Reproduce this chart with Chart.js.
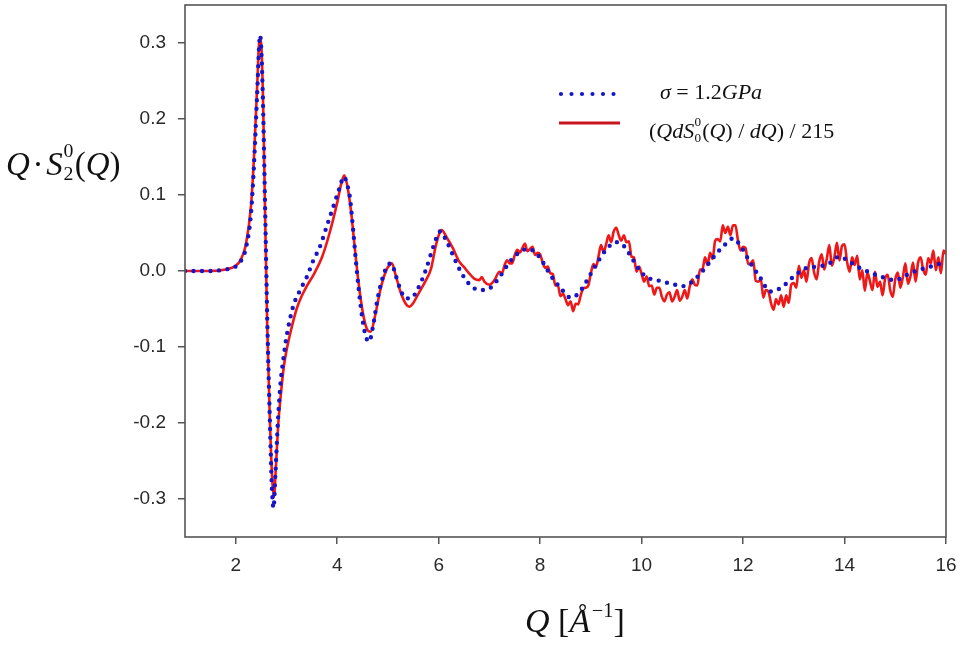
<!DOCTYPE html>
<html>
<head>
<meta charset="utf-8">
<script src="https://cdn.jsdelivr.net/npm/chart.js@4"></script>
<style>
  html, body { margin:0; padding:0; background:#fff; }
  #wrap { position:relative; width:966px; height:650px; overflow:hidden; }
  canvas { position:absolute; left:0; top:0; }
  .t { position:absolute; font-family:"Liberation Serif","Times New Roman",serif; color:#111; white-space:nowrap; line-height:1; }
  .i { font-style:italic; }
  .ss { display:inline-block; position:relative; width:0.36em; height:1em; vertical-align:baseline; }
  .ss span { position:absolute; left:0.03em; font-size:0.6em; font-style:normal; line-height:1; }
  .ss .u { top:-0.05em; }
  .ss .d { top:1.1em; }
  .sup { font-size:0.6em; position:relative; top:-0.75em; font-style:normal; margin-left:0.08em; }
</style>
</head>
<body>
<div id="wrap">
  <canvas id="c" width="966" height="650"></canvas>
  <div class="t" id="ylab" style="left:6px; top:142px; font-size:33px;"><span class="i">Q</span>&#8202;·&#8202;<span class="i">S</span><span class="ss"><span class="u">0</span><span class="d">2</span></span>(<span class="i">Q</span>)</div>
  <div class="t" id="xlab" style="left:525px; top:604px; font-size:34px;"><span class="i">Q</span> [<span class="i">Å</span><span class="sup">−1</span>]</div>
  <div class="t" id="leg1" style="left:660px; top:81px; font-size:22px;"><span class="i">σ</span> = 1.2<span class="i">GPa</span></div>
  <div class="t" id="leg2" style="left:649px; top:116px; font-size:22px;">(<span class="i">QdS</span><span class="ss"><span class="u">0</span><span class="d">0</span></span>(<span class="i">Q</span>) / <span class="i">dQ</span>) / 215</div>
</div>
<script>
// ---------- data ----------
const xTickValues = [2, 4, 6, 8, 10, 12, 14, 16];
const yTickValues = [-0.3, -0.2, -0.1, 0.0, 0.1, 0.2, 0.3];

const seriesNames = ["σ = 1.2GPa", "(QdS0(Q)/dQ)/215"];

// sigma = 1.2 GPa (blue dotted)
const blueQ = [1.0, 1.4, 1.8, 2.0, 2.1, 2.2, 2.3, 2.36, 2.42, 2.48, 2.53, 2.58, 2.62, 2.67, 2.71, 2.745, 2.78, 2.83, 2.88, 2.95,
  3.0, 3.13, 3.27, 3.4, 3.53, 3.66, 3.79, 3.92, 4.05, 4.13, 4.2, 4.25, 4.32, 4.38, 4.48, 4.56, 4.63, 4.7, 4.8, 4.9,
  5.0, 5.07, 5.15, 5.25, 5.35, 5.45, 5.6, 5.75, 5.9, 6.03, 6.15, 6.3, 6.42, 6.55, 6.68, 6.85, 7.0, 7.2, 7.4, 7.6,
  7.75, 7.9, 8.05, 8.2, 8.4, 8.6, 8.75, 8.9, 9.1, 9.3, 9.5, 9.65, 9.8, 9.95, 10.1, 10.36, 10.6, 10.8, 11.0, 11.15,
  11.3, 11.5, 11.7, 11.8, 11.95, 12.15, 12.35, 12.53, 12.75, 13.0, 13.25, 13.5, 13.7, 13.9, 14.1, 14.3, 14.5, 14.7, 15.0, 15.2,
  15.4, 15.7, 16.0];
const blueVals = [0.000, 0.000, 0.002, 0.006, 0.013, 0.030, 0.075, 0.140, 0.230, 0.310, 0.240, 0.080, -0.060, -0.190, -0.280, -0.312, -0.270, -0.200, -0.150, -0.110,
  -0.087, -0.047, -0.025, -0.008, 0.014, 0.032, 0.058, 0.084, 0.110, 0.124, 0.113, 0.097, 0.050, 0.005, -0.055, -0.085, -0.093, -0.075, -0.035, -0.008,
  0.008, 0.010, -0.005, -0.025, -0.036, -0.036, -0.022, 0.002, 0.033, 0.052, 0.040, 0.018, 0.001, -0.013, -0.022, -0.025, -0.023, -0.008, 0.012, 0.025,
  0.029, 0.025, 0.012, -0.005, -0.022, -0.035, -0.030, -0.015, 0.008, 0.028, 0.038, 0.033, 0.018, 0.002, -0.008, -0.013, -0.017, -0.020, -0.014, -0.004,
  0.008, 0.025, 0.038, 0.043, 0.033, 0.010, -0.010, -0.027, -0.022, -0.007, 0.004, 0.006, 0.010, 0.019, 0.012, 0.004, -0.002, -0.007, -0.012, -0.006,
  0.000, 0.006, 0.012];

// (Q dS0/dQ)/215 (red solid)
const redQ = [1.0, 1.5, 1.8, 2.0, 2.1, 2.2, 2.3, 2.36, 2.42, 2.47, 2.5, 2.54, 2.58, 2.62, 2.67, 2.72, 2.755, 2.79, 2.84, 2.9,
  2.95, 3.0, 3.1, 3.2, 3.3, 3.4, 3.55, 3.7, 3.85, 4.0, 4.08, 4.14, 4.2, 4.27, 4.34, 4.42, 4.52, 4.6, 4.66, 4.75,
  4.85, 4.95, 5.03, 5.08, 5.15, 5.25, 5.35, 5.42, 5.5, 5.6, 5.75, 5.85, 5.95, 6.06, 6.15, 6.28, 6.4, 6.5, 6.6, 6.7,
  6.8, 6.85, 6.9, 7.0, 7.1,
  7.20, 7.25, 7.30, 7.35, 7.40, 7.45, 7.50, 7.55, 7.60, 7.65, 7.70, 7.75, 7.80, 7.85, 7.90, 7.95,
  8.00, 8.05, 8.10, 8.15, 8.20, 8.25, 8.30, 8.35, 8.40, 8.45, 8.50, 8.55, 8.60, 8.65, 8.70, 8.75, 8.80, 8.85, 8.90, 8.95,
  9.00, 9.05, 9.10, 9.15, 9.20, 9.25, 9.30, 9.35, 9.40, 9.45, 9.50, 9.55, 9.60, 9.65, 9.70, 9.75, 9.80, 9.85, 9.90, 9.95,
  10.00, 10.05, 10.10, 10.15, 10.20, 10.25, 10.30, 10.35, 10.40, 10.45, 10.50, 10.55, 10.60, 10.65, 10.70, 10.75, 10.80, 10.85, 10.90, 10.95,
  11.00, 11.05, 11.10, 11.15, 11.20, 11.25, 11.30, 11.35, 11.40, 11.45, 11.50, 11.55, 11.60, 11.65, 11.70, 11.75, 11.80, 11.85, 11.90, 11.95,
  12.00, 12.05, 12.10, 12.15, 12.20, 12.25, 12.30, 12.35, 12.40, 12.45, 12.50, 12.55, 12.60, 12.65, 12.70, 12.75, 12.80, 12.85, 12.90, 12.95,
  13.00, 13.05, 13.10, 13.15, 13.20, 13.25, 13.30, 13.35, 13.40, 13.45, 13.50, 13.55, 13.60, 13.65, 13.70, 13.75, 13.80, 13.85, 13.90, 13.95,
  14.00, 14.05, 14.10, 14.15, 14.20, 14.25, 14.30, 14.35, 14.40, 14.45, 14.50, 14.55, 14.60, 14.65, 14.70, 14.75, 14.80, 14.85, 14.90, 14.95,
  15.00, 15.05, 15.10, 15.15, 15.20, 15.25, 15.30, 15.35, 15.40, 15.45, 15.50, 15.55, 15.60, 15.65, 15.70, 15.75, 15.80, 15.85, 15.90, 15.95,
  16.00];
const redVals = [0.000, 0.000, 0.002, 0.007, 0.015, 0.035, 0.085, 0.150, 0.240, 0.305, 0.300, 0.220, 0.070, -0.070, -0.190, -0.275, -0.297, -0.260, -0.200, -0.155,
  -0.125, -0.105, -0.075, -0.050, -0.033, -0.020, -0.003, 0.018, 0.050, 0.090, 0.115, 0.126, 0.112, 0.080, 0.035, -0.015, -0.060, -0.078, -0.080, -0.058,
  -0.025, -0.002, 0.008, 0.010, -0.005, -0.028, -0.043, -0.047, -0.042, -0.030, -0.012, 0.003, 0.035, 0.054, 0.045, 0.030, 0.013, 0.005, -0.003, -0.010,
  -0.012, -0.008, -0.014, -0.018, -0.012,
  -0.001, -0.003, 0.008, 0.014, 0.010, 0.010, 0.021, 0.028, 0.024, 0.030, 0.036, 0.026, 0.029, 0.032, 0.021, 0.024,
  0.022, 0.011, 0.004, 0.006, -0.003, -0.004, -0.019, -0.019, -0.033, -0.030, -0.037, -0.045, -0.040, -0.053, -0.043, -0.044, -0.032, -0.023, -0.022, -0.019,
  -0.003, 0.009, 0.005, 0.019, 0.034, 0.025, 0.035, 0.047, 0.038, 0.052, 0.057, 0.047, 0.040, 0.047, 0.038, 0.039, 0.019, 0.018, -0.001, 0.006,
  -0.004, -0.014, -0.007, -0.020, -0.019, -0.031, -0.022, -0.022, -0.034, -0.040, -0.031, -0.028, -0.040, -0.034, -0.025, -0.039, -0.034, -0.025, -0.036, -0.020,
  -0.011, -0.018, -0.019, 0.002, 0.002, 0.018, 0.008, 0.024, 0.016, 0.040, 0.042, 0.039, 0.060, 0.050, 0.058, 0.047, 0.060, 0.060, 0.040, 0.027,
  0.032, 0.030, 0.009, 0.010, 0.014, -0.013, -0.014, -0.011, -0.035, -0.025, -0.027, -0.042, -0.051, -0.037, -0.044, -0.032, -0.047, -0.032, -0.042, -0.018,
  -0.016, -0.022, 0.007, -0.009, 0.001, -0.014, 0.010, 0.017, -0.002, -0.011, 0.012, 0.022, 0.002, 0.016, 0.034, 0.007, 0.018, 0.037, 0.014, 0.033,
  0.035, 0.012, -0.001, 0.018, 0.008, 0.020, -0.011, 0.001, -0.026, -0.002, -0.013, -0.025, -0.001, -0.021, -0.014, -0.032, -0.010, -0.005, -0.025, -0.034,
  -0.011, -0.002, -0.022, -0.008, 0.010, -0.017, -0.007, 0.011, -0.014, 0.011, 0.018, 0.002, -0.005, 0.017, 0.010, 0.027, 0.001, 0.018, -0.003, 0.027,
  0.022];

// ---------- chart ----------
const toPoints = (xs, ys) => xs.map((x, i) => ({ x: x, y: ys[i] }));

const framePlugin = {
  id: 'frame',
  afterDraw(chart) {
    const { ctx, chartArea: a } = chart;
    ctx.save();
    ctx.strokeStyle = '#555';
    ctx.lineWidth = 1.6;
    ctx.strokeRect(a.left, a.top, a.right - a.left, a.bottom - a.top);
    // legend samples
    ctx.lineCap = 'round';
    ctx.strokeStyle = '#1616c8';
    ctx.lineWidth = 4.2;
    ctx.setLineDash([0, 10.5]);
    ctx.beginPath(); ctx.moveTo(561, 94); ctx.lineTo(615, 94); ctx.stroke();
    ctx.setLineDash([]);
    ctx.lineCap = 'butt';
    ctx.strokeStyle = '#c8141c';
    ctx.lineWidth = 3;
    ctx.beginPath(); ctx.moveTo(559, 123); ctx.lineTo(620, 123); ctx.stroke();
    ctx.restore();
  }
};

new Chart(document.getElementById('c'), {
  type: 'line',
  data: {
    datasets: [
      {
        label: seriesNames[0],
        data: toPoints(blueQ, blueVals),
        borderColor: '#1616c8',
        borderWidth: 4.4,
        borderDash: [0, 8.5],
        borderCapStyle: 'round',
        pointRadius: 0,
        cubicInterpolationMode: 'monotone',
        fill: false
      },
      {
        label: seriesNames[1],
        data: toPoints(redQ, redVals),
        borderColor: '#ee1818',
        borderWidth: 2.6,
        borderJoinStyle: 'round',
        pointRadius: 0,
        cubicInterpolationMode: 'monotone',
        fill: false
      }
    ]
  },
  options: {
    responsive: false,
    animation: false,
    devicePixelRatio: 1,
    layout: { padding: { left: 0, right: 20, top: 5, bottom: 0 } },
    plugins: { legend: { display: false }, tooltip: { enabled: false } },
    scales: {
      x: {
        type: 'linear',
        min: 1, max: 16,
        afterBuildTicks: (s) => { s.ticks = xTickValues.map(v => ({ value: v })); },
        afterFit: (s) => { s.height = 113; s.paddingLeft = 0; s.paddingRight = 0; },
        grid: { drawOnChartArea: false, drawTicks: true, tickLength: 7, color: '#555', lineWidth: 1.5 },
        border: { display: false },
        ticks: { color: '#2a2a2a', padding: 10, maxRotation: 0, font: { family: 'Liberation Sans, Arial, sans-serif', size: 19 },
                 callback: (v) => String(v) }
      },
      y: {
        type: 'linear',
        min: -0.35, max: 0.35,
        afterBuildTicks: (s) => { s.ticks = yTickValues.map(v => ({ value: v })); },
        afterFit: (s) => { s.width = 185; s.paddingTop = 0; s.paddingBottom = 0; },
        grid: { drawOnChartArea: false, drawTicks: true, tickLength: 7, color: '#555', lineWidth: 1.5 },
        border: { display: false },
        ticks: { color: '#2a2a2a', padding: 12, font: { family: 'Liberation Sans, Arial, sans-serif', size: 19 },
                 callback: (v) => Number(v).toFixed(1) }
      }
    }
  },
  plugins: [framePlugin]
});
</script>
</body>
</html>
